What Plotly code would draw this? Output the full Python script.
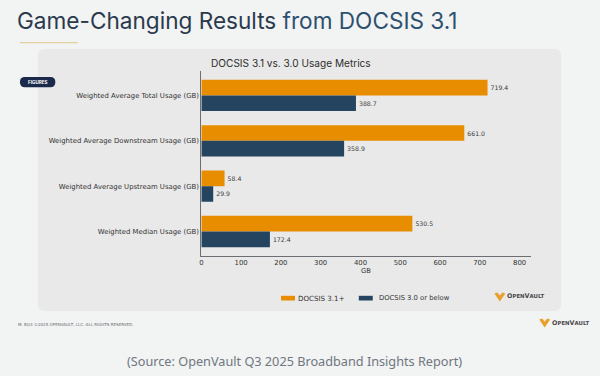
import plotly.graph_objects as go

W, H = 600, 376
categories = ["Weighted Average Total Usage (GB)", "Weighted Average Downstream Usage (GB)",
              "Weighted Average Upstream Usage (GB)", "Weighted Median Usage (GB)"]
docsis_31 = [719.4, 661.0, 58.4, 530.5]
docsis_30 = [388.7, 358.9, 29.9, 172.4]
x_ticks = [0, 100, 200, 300, 400, 500, 600, 700, 800]
ORANGE, NAVY = "#e88c00", "#24445f"
AX = "#6b6f73"

def X(p): return (p - 1) / W
def Y(p): return 1 - p / H

def rrect(x0, y0, x1, y1, r):
    a, b, c, d = X(x0), X(x1), Y(y0), Y(y1)
    rx, ry = r / W, r / H
    return (f"M{a+rx},{c} L{b-rx},{c} Q{b},{c} {b},{c-ry} L{b},{d+ry} Q{b},{d} {b-rx},{d} "
            f"L{a+rx},{d} Q{a},{d} {a},{d+ry} L{a},{c-ry} Q{a},{c} {a+rx},{c} Z")

def pshape(path, color):
    return dict(type="path", xref="paper", yref="paper", path=path, fillcolor=color,
                line=dict(width=0), layer="below")

def rect(x0, y0, x1, y1, color):
    return dict(type="rect", xref="paper", yref="paper", x0=X(x0), x1=X(x1), y0=Y(y0), y1=Y(y1),
                fillcolor=color, line=dict(width=0), layer="below")

def logo(cx, cy):
    pts = [(-5.5, -3), (-2.5, -4), (0, -1), (2.5, -4), (5.5, -3), (0, 5)]
    path = "M" + " L".join(f"{X(cx+a)},{Y(cy+b)}" for a, b in pts) + " Z"
    return pshape(path, "#e9a02c")

def txt(x, y, s, size, color, anchor="left", font="DejaVu Sans"):
    return dict(xref="paper", yref="paper", x=X(x), y=Y(y), text=s, showarrow=False,
                xanchor=anchor, yanchor="middle", font=dict(size=size, color=color, family=font),
                borderpad=0, borderwidth=0)

def brand(x, y):
    small = "<span style='font-size:5.4px'>"
    return txt(x, y, f"<b>O{small}PEN</span>V{small}AULT</span></b>", 6.4, "#4a4a4a", font="DejaVu Sans")

fig = go.Figure()
for name, vals, col in [("DOCSIS 3.1+", docsis_31, ORANGE), ("DOCSIS 3.0 or below", docsis_30, NAVY)]:
    fig.add_bar(y=categories, x=vals, name=name, orientation="h", marker_color=col,
                marker_line=dict(width=0), texttemplate="%{x:.1f}", textposition="outside",
                textfont=dict(size=6.2, color="#3a3a3a", family="DejaVu Sans"), cliponaxis=False)

shapes = [pshape(rrect(37, 49, 562, 311, 7), "#e9e9e9"),
          rect(19, 42, 77, 43.3, "#e6cf9f"),
          pshape(rrect(19, 77, 54.5, 87.3, 5), "#1b2a4a"),
          rect(281, 295.8, 295, 300.5, ORANGE),
          rect(359, 295.8, 373, 300.5, NAVY),
          logo(500.5, 296.5), logo(545.5, 322.5)]

annotations = [
    txt(16, 21, "Game-Changing Results <span style='color:#2d5070'>from DOCSIS 3.1</span>", 22.6, "#2a3a4c", font="Inter"),
    txt(291, 63, "DOCSIS 3.1 vs. 3.0 Usage Metrics", 10.1, "#2e2e2e", "center", "Inter"),
    txt(37.5, 82.2, "<b>FIGURES</b>", 4.6, "#ffffff", "center", "Inter"),
    txt(298, 298.2, "DOCSIS 3.1+", 7.1, "#333333"),
    txt(379, 298.2, "DOCSIS 3.0 or below", 6.8, "#333333"),
    txt(366, 270.5, "GB", 6.8, "#333333", "center"),
    brand(508, 296),
    brand(553, 322.5),
    txt(17.5, 324, "M. BQ3 ©2025 OPENVAULT, LLC. ALL RIGHTS RESERVED.", 4.05, "#666b70"),
    txt(294.5, 361, "(Source: OpenVault Q3 2025 Broadband Insights Report)", 12.7, "#6f7780", "center", "Noto Sans"),
]

fig.update_layout(
    width=W, height=H, autosize=False, margin=dict(l=0, r=0, t=0, b=0, pad=0),
    paper_bgcolor="#f2f3f3", plot_bgcolor="rgba(0,0,0,0)", showlegend=False,
    barmode="group", bargap=0.31, bargroupgap=0, shapes=shapes, annotations=annotations,
    font=dict(family="DejaVu Sans", size=6.9, color="#333333"),
    xaxis=dict(domain=[X(201), X(531.5)], range=[0, 828], tickvals=x_ticks, showgrid=False,
               zeroline=False, showline=True, linecolor=AX, linewidth=1, ticks="", anchor="y",
               tickfont=dict(size=6.9, color="#333333")),
    yaxis=dict(domain=[Y(255.7), Y(71)], range=[3.534, -0.54], type="category", showgrid=False,
               zeroline=False, showline=True, linecolor=AX, linewidth=1, ticks="", anchor="x",
               tickfont=dict(size=6.9, color="#333333"), categoryorder="array", categoryarray=categories),
)
fig.write_html("out.html", config={"displayModeBar": False},
               post_script="document.body.style.margin='0';document.body.style.background='#f2f3f3';")
